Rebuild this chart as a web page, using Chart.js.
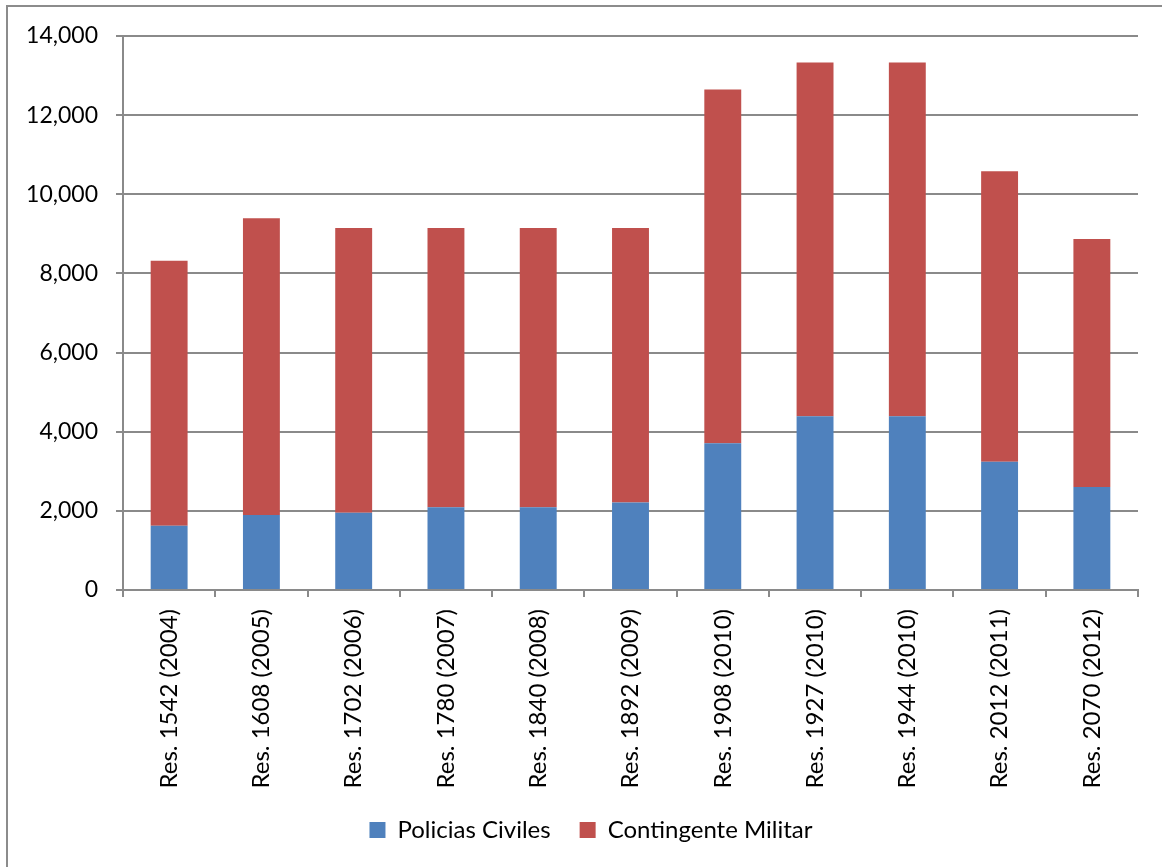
<!DOCTYPE html>
<html>
<head>
<meta charset="utf-8">
<title>MINUSTAH</title>
<script src="https://cdn.jsdelivr.net/npm/chart.js@4.4.1/dist/chart.umd.min.js"></script>
<style>
  html, body { margin: 0; padding: 0; background: #ffffff; }
  #wrap { position: relative; width: 1162px; height: 867px; overflow: hidden; }
  #frame { position: absolute; left: 6px; top: 5px; width: 1200px; height: 900px;
           border-left: 2px solid #8c8c8c; border-top: 2px solid #8c8c8c; }
  #c { position: absolute; left: 0; top: 0; }
</style>
</head>
<body>
<div id="wrap">
  <div id="frame"></div>
  <canvas id="c" width="1162" height="867"></canvas>
</div>
<script>
// Security Council resolutions (year)
const categories = [
  'Res. 1542 (2004)', 'Res. 1608 (2005)', 'Res. 1702 (2006)', 'Res. 1780 (2007)',
  'Res. 1840 (2008)', 'Res. 1892 (2009)', 'Res. 1908 (2010)', 'Res. 1927 (2010)',
  'Res. 1944 (2010)', 'Res. 2012 (2011)', 'Res. 2070 (2012)'
];
// Authorised police personnel
const policiasCiviles = [1622, 1897, 1951, 2091, 2091, 2211, 3711, 4391, 4391, 3241, 2601];
// Authorised military personnel
const contingenteMilitar = [6700, 7500, 7200, 7060, 7060, 6940, 8940, 8940, 8940, 7340, 6270];
// Value axis ticks
const yTicks = [0, 2000, 4000, 6000, 8000, 10000, 12000, 14000];

const FONT = 'Lato, "Open Sans", sans-serif';
const GRID = '#8a8a8a';

// Nudges the bottom legend a little to the right of the canvas centre
const legendShift = {
  id: 'legendShift',
  afterLayout(chart) {
    if (chart.legend) { chart.legend.left += 22; chart.legend.right += 22; }
  }
};

new Chart(document.getElementById('c'), {
  type: 'bar',
  data: {
    labels: categories,
    datasets: [
      { label: 'Policias Civiles', data: policiasCiviles, backgroundColor: '#4F81BD',
        borderWidth: 0, barPercentage: 0.4, categoryPercentage: 1 },
      { label: 'Contingente Militar', data: contingenteMilitar, backgroundColor: '#C0504D',
        borderWidth: 0, barPercentage: 0.4, categoryPercentage: 1 }
    ]
  },
  plugins: [legendShift],
  options: {
    responsive: false,
    animation: false,
    layout: { padding: { left: 0, top: 36, right: 24, bottom: 15 } },
    plugins: {
      legend: {
        position: 'bottom',
        labels: {
          boxWidth: 16, boxHeight: 16, padding: 29,
          color: '#000', font: { family: FONT, size: 24 }
        }
      },
      tooltip: { enabled: false }
    },
    scales: {
      x: {
        stacked: true,
        afterFit: s => { s.height = 199; },
        grid: { offset: true, drawOnChartArea: false, drawTicks: true, tickLength: 7,
                color: GRID, lineWidth: 2 },
        border: { color: GRID, width: 2 },
        ticks: { minRotation: 90, maxRotation: 90, autoSkip: false, padding: 12,
                 color: '#000', font: { family: FONT, size: 24 } }
      },
      y: {
        stacked: true,
        min: 0, max: 14000,
        afterFit: s => { s.width = 123; },
        afterBuildTicks: s => { s.ticks = yTicks.map(v => ({ value: v })); },
        grid: { color: GRID, lineWidth: 2, tickLength: 7 },
        border: { color: GRID, width: 2 },
        ticks: { padding: 18, color: '#000', font: { family: FONT, size: 23 },
                 callback: v => v.toLocaleString('en-US') }
      }
    }
  }
});
</script>
</body>
</html>
